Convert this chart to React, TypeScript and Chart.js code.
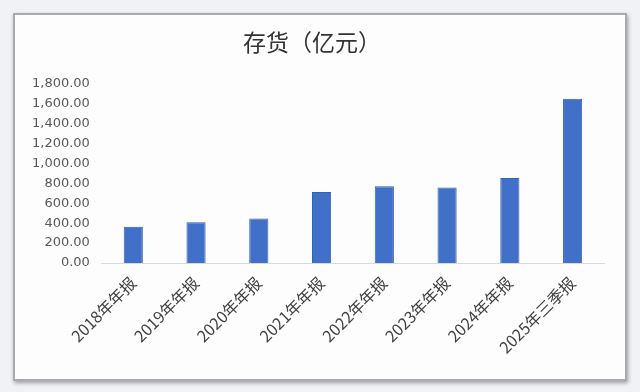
import React, { useEffect, useRef } from "react";
import { Chart, registerables } from "chart.js";

Chart.register(...registerables);

const categories = [
  "2018年年报",
  "2019年年报",
  "2020年年报",
  "2021年年报",
  "2022年年报",
  "2023年年报",
  "2024年年报",
  "2025年三季报",
];
const inventory = [363, 410, 447, 713, 770, 757, 853, 1647];
const titleText = "存货（亿元）";
const yMax = 1800;
const yStep = 200;

export default function App() {
  const canvasRef = useRef<HTMLCanvasElement | null>(null);

  useEffect(() => {
    const prevMargin = document.body.style.margin;
    document.body.style.margin = "0";
    const ctx = canvasRef.current;
    if (!ctx) return;
    const chart = new Chart(ctx, {
      type: "bar",
      data: {
        labels: categories,
        datasets: [
          {
            label: titleText,
            data: inventory,
            backgroundColor: "#4070c8",
            borderColor: "#3460b4",
            borderWidth: 1,
            barPercentage: 0.61,
            categoryPercentage: 0.5,
          },
        ],
      },
      options: {
        animation: false,
        responsive: false,
        maintainAspectRatio: false,
        layout: { padding: { left: 20, right: 36, top: 0, bottom: 25 } },
        plugins: {
          legend: { display: false },
          tooltip: { enabled: false },
          title: {
            display: true,
            text: titleText,
            color: "#333333",
            font: { family: "'Noto Sans CJK SC'", size: 23, weight: "normal" },
            padding: { top: 28, bottom: 28 },
          },
        },
        scales: {
          x: {
            grid: { display: false, drawTicks: false },
            border: { display: true, color: "#d9d9d9", width: 1 },
            ticks: {
              color: "#404040",
              font: { family: "'Noto Sans CJK SC'", size: 16 },
              minRotation: 45,
              maxRotation: 45,
              autoSkip: false,
              padding: 10,
            },
          },
          y: {
            min: 0,
            max: yMax,
            grid: { display: false, drawTicks: false },
            border: { display: false },
            ticks: {
              stepSize: yStep,
              color: "#595959",
              font: { family: "'DejaVu Sans'", size: 13 },
              padding: 12,
              callback: (v: any) =>
                Number(v).toLocaleString("en-US", {
                  minimumFractionDigits: 2,
                  maximumFractionDigits: 2,
                }),
            },
          },
        },
      },
    });
    return () => {
      chart.destroy();
      document.body.style.margin = prevMargin;
    };
  }, []);

  return (
    <div
      style={{
        position: "relative",
        width: 640,
        height: 392,
        background: "#f1f2f5",
        overflow: "hidden",
      }}
    >
      <div
        style={{
          position: "absolute",
          left: 13,
          top: 13,
          width: 610,
          height: 364,
          background: "#fdfdfe",
          border: "2px solid #a8aab0",
          boxShadow: "1px 2px 4px rgba(0,0,0,0.35)",
        }}
      />
      <canvas
        ref={canvasRef}
        width={640}
        height={392}
        style={{ position: "absolute", left: 0, top: 0, width: 640, height: 392 }}
      />
    </div>
  );
}
